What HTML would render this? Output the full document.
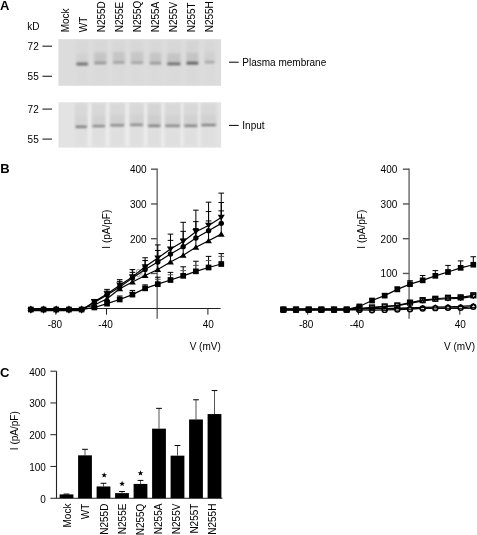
<!DOCTYPE html>
<html><head><meta charset="utf-8"><style>
html,body{margin:0;padding:0;background:#fff;}
body{width:477px;height:535px;overflow:hidden;}
svg{display:block;font-family:"Liberation Sans", sans-serif;will-change:transform;}
</style></head><body>
<svg width="477" height="535" viewBox="0 0 477 535">
<text x="0" y="9.8" font-size="13" text-anchor="start" font-weight="bold" fill="#000">A</text>
<text x="27.2" y="30.2" font-size="10" text-anchor="start" font-weight="normal" fill="#000">kD</text>
<text x="68.8" y="32.3" font-size="10" text-anchor="start" font-weight="normal" fill="#000" transform="rotate(-90 68.8 32.3)">Mock</text>
<text x="86.88" y="32.3" font-size="10" text-anchor="start" font-weight="normal" fill="#000" transform="rotate(-90 86.88 32.3)">WT</text>
<text x="104.96" y="32.3" font-size="10" text-anchor="start" font-weight="normal" fill="#000" transform="rotate(-90 104.96 32.3)">N255D</text>
<text x="123.04" y="32.3" font-size="10" text-anchor="start" font-weight="normal" fill="#000" transform="rotate(-90 123.04 32.3)">N255E</text>
<text x="141.12" y="32.3" font-size="10" text-anchor="start" font-weight="normal" fill="#000" transform="rotate(-90 141.12 32.3)">N255Q</text>
<text x="159.2" y="32.3" font-size="10" text-anchor="start" font-weight="normal" fill="#000" transform="rotate(-90 159.2 32.3)">N255A</text>
<text x="177.28" y="32.3" font-size="10" text-anchor="start" font-weight="normal" fill="#000" transform="rotate(-90 177.28 32.3)">N255V</text>
<text x="195.36" y="32.3" font-size="10" text-anchor="start" font-weight="normal" fill="#000" transform="rotate(-90 195.36 32.3)">N255T</text>
<text x="213.44" y="32.3" font-size="10" text-anchor="start" font-weight="normal" fill="#000" transform="rotate(-90 213.44 32.3)">N255H</text>
<defs><filter id="bl1" x="-30%" y="-30%" width="160%" height="160%"><feGaussianBlur stdDeviation="1.2"/></filter><filter id="bl2" x="-30%" y="-150%" width="160%" height="400%"><feGaussianBlur stdDeviation="1.0"/></filter><filter id="bl3" x="-30%" y="-30%" width="160%" height="160%"><feGaussianBlur stdDeviation="2"/></filter></defs>
<rect x="58.4" y="39.2" width="162.7" height="46.6" fill="#dcdcdc"/>
<rect x="75.8" y="40.2" width="12.8" height="25.8" fill="#d0d0d0" opacity="0.3" filter="url(#bl1)"/>
<rect x="75.8" y="66.0" width="12.8" height="18.8" fill="#d0d0d0" opacity="0.09" filter="url(#bl1)"/>
<rect x="76.39999999999999" y="53.5" width="11.6" height="9.8" fill="#c4c4c4" opacity="0.3" filter="url(#bl1)"/>
<rect x="76.39999999999999" y="62.60" width="11.6" height="2.8" rx="0.9" fill="#727272" filter="url(#bl2)"/>
<rect x="93.7" y="40.2" width="13.2" height="24.7" fill="#d0d0d0" opacity="0.35" filter="url(#bl1)"/>
<rect x="93.7" y="64.9" width="13.2" height="19.9" fill="#d0d0d0" opacity="0.10" filter="url(#bl1)"/>
<rect x="94.3" y="52.4" width="12.0" height="9.8" fill="#c4c4c4" opacity="0.9" filter="url(#bl1)"/>
<rect x="94.3" y="61.50" width="12.0" height="2.8" rx="0.9" fill="#969696" filter="url(#bl2)"/>
<rect x="112.5" y="40.2" width="12.7" height="24.2" fill="#d0d0d0" opacity="0.35" filter="url(#bl1)"/>
<rect x="112.5" y="64.4" width="12.7" height="20.4" fill="#d0d0d0" opacity="0.10" filter="url(#bl1)"/>
<rect x="113.1" y="51.9" width="11.5" height="9.8" fill="#c4c4c4" opacity="0.85" filter="url(#bl1)"/>
<rect x="113.1" y="61.00" width="11.5" height="2.8" rx="0.9" fill="#a2a2a2" filter="url(#bl2)"/>
<rect x="130.5" y="40.2" width="13.2" height="24.4" fill="#d0d0d0" opacity="0.35" filter="url(#bl1)"/>
<rect x="130.5" y="64.6" width="13.2" height="20.2" fill="#d0d0d0" opacity="0.10" filter="url(#bl1)"/>
<rect x="131.1" y="52.1" width="12.0" height="9.8" fill="#c4c4c4" opacity="0.8" filter="url(#bl1)"/>
<rect x="131.1" y="61.20" width="12.0" height="2.8" rx="0.9" fill="#a6a6a6" filter="url(#bl2)"/>
<rect x="149.3" y="40.2" width="12.4" height="25.0" fill="#d0d0d0" opacity="0.35" filter="url(#bl1)"/>
<rect x="149.3" y="65.2" width="12.4" height="19.6" fill="#d0d0d0" opacity="0.10" filter="url(#bl1)"/>
<rect x="149.9" y="52.7" width="11.2" height="9.8" fill="#c4c4c4" opacity="0.85" filter="url(#bl1)"/>
<rect x="149.9" y="61.80" width="11.2" height="2.8" rx="0.9" fill="#989898" filter="url(#bl2)"/>
<rect x="166.7" y="40.2" width="14.3" height="25.7" fill="#d0d0d0" opacity="0.35" filter="url(#bl1)"/>
<rect x="166.7" y="65.9" width="14.3" height="18.9" fill="#d0d0d0" opacity="0.10" filter="url(#bl1)"/>
<rect x="167.29999999999998" y="53.4" width="13.1" height="9.8" fill="#c4c4c4" opacity="0.9" filter="url(#bl1)"/>
<rect x="167.29999999999998" y="62.50" width="13.1" height="2.8" rx="0.9" fill="#6c6c6c" filter="url(#bl2)"/>
<rect x="186.0" y="40.2" width="12.8" height="25.0" fill="#d0d0d0" opacity="0.6" filter="url(#bl1)"/>
<rect x="186.0" y="65.2" width="12.8" height="19.6" fill="#d0d0d0" opacity="0.18" filter="url(#bl1)"/>
<rect x="186.6" y="52.7" width="11.6" height="9.8" fill="#c4c4c4" opacity="0.95" filter="url(#bl1)"/>
<rect x="186.6" y="61.80" width="11.6" height="2.8" rx="0.9" fill="#5c5c5c" filter="url(#bl2)"/>
<rect x="204.2" y="40.2" width="11.0" height="23.9" fill="#d0d0d0" opacity="0.35" filter="url(#bl1)"/>
<rect x="204.2" y="64.1" width="11.0" height="20.7" fill="#d0d0d0" opacity="0.10" filter="url(#bl1)"/>
<rect x="204.79999999999998" y="51.6" width="9.8" height="9.8" fill="#c4c4c4" opacity="0.35" filter="url(#bl1)"/>
<rect x="204.79999999999998" y="60.70" width="9.8" height="2.8" rx="0.9" fill="#a8a8a8" filter="url(#bl2)"/>
<rect x="58.4" y="102.3" width="162.7" height="45.3" fill="#e3e3e3"/>
<rect x="87.2" y="103.3" width="4.9" height="43.3" fill="#ebebeb" filter="url(#bl1)"/>
<rect x="105.3" y="103.3" width="4.7" height="43.3" fill="#ebebeb" filter="url(#bl1)"/>
<rect x="124.5" y="103.3" width="5.3" height="43.3" fill="#ebebeb" filter="url(#bl1)"/>
<rect x="143.4" y="103.3" width="4.4" height="43.3" fill="#ebebeb" filter="url(#bl1)"/>
<rect x="160.7" y="103.3" width="4.2" height="43.3" fill="#ebebeb" filter="url(#bl1)"/>
<rect x="180.3" y="103.3" width="3.7" height="43.3" fill="#ebebeb" filter="url(#bl1)"/>
<rect x="197.6" y="103.3" width="3.3" height="43.3" fill="#ebebeb" filter="url(#bl1)"/>
<rect x="74.8" y="103.3" width="12.7" height="25.4" fill="#d4d4d4" opacity="0.7" filter="url(#bl1)"/>
<rect x="74.8" y="128.7" width="12.7" height="17.9" fill="#d4d4d4" opacity="0.21" filter="url(#bl1)"/>
<rect x="75.39999999999999" y="116.2" width="11.5" height="9.8" fill="#cccccc" opacity="0.3" filter="url(#bl1)"/>
<rect x="75.39999999999999" y="125.75" width="11.5" height="1.9" rx="0.9" fill="#6c6c6c" filter="url(#bl2)"/>
<rect x="91.8" y="103.3" width="13.8" height="24.8" fill="#d4d4d4" opacity="0.7" filter="url(#bl1)"/>
<rect x="91.8" y="128.1" width="13.8" height="18.5" fill="#d4d4d4" opacity="0.21" filter="url(#bl1)"/>
<rect x="92.39999999999999" y="115.6" width="12.6" height="9.8" fill="#cccccc" opacity="0.5" filter="url(#bl1)"/>
<rect x="92.39999999999999" y="125.15" width="12.6" height="1.9" rx="0.9" fill="#747474" filter="url(#bl2)"/>
<rect x="109.7" y="103.3" width="15.1" height="23.9" fill="#d4d4d4" opacity="0.7" filter="url(#bl1)"/>
<rect x="109.7" y="127.2" width="15.1" height="19.4" fill="#d4d4d4" opacity="0.21" filter="url(#bl1)"/>
<rect x="110.3" y="114.7" width="13.9" height="9.8" fill="#cccccc" opacity="0.5" filter="url(#bl1)"/>
<rect x="110.3" y="124.25" width="13.9" height="1.9" rx="0.9" fill="#7c7c7c" filter="url(#bl2)"/>
<rect x="129.5" y="103.3" width="14.2" height="23.5" fill="#d4d4d4" opacity="0.7" filter="url(#bl1)"/>
<rect x="129.5" y="126.8" width="14.2" height="19.8" fill="#d4d4d4" opacity="0.21" filter="url(#bl1)"/>
<rect x="130.1" y="114.3" width="13.0" height="9.8" fill="#cccccc" opacity="0.5" filter="url(#bl1)"/>
<rect x="130.1" y="123.85" width="13.0" height="1.9" rx="0.9" fill="#7e7e7e" filter="url(#bl2)"/>
<rect x="147.5" y="103.3" width="13.5" height="24.4" fill="#d4d4d4" opacity="0.9" filter="url(#bl1)"/>
<rect x="147.5" y="127.7" width="13.5" height="18.9" fill="#d4d4d4" opacity="0.27" filter="url(#bl1)"/>
<rect x="148.1" y="115.2" width="12.3" height="9.8" fill="#cccccc" opacity="0.7" filter="url(#bl1)"/>
<rect x="148.1" y="124.75" width="12.3" height="1.9" rx="0.9" fill="#707070" filter="url(#bl2)"/>
<rect x="164.6" y="103.3" width="16.0" height="24.5" fill="#d4d4d4" opacity="0.7" filter="url(#bl1)"/>
<rect x="164.6" y="127.8" width="16.0" height="18.8" fill="#d4d4d4" opacity="0.21" filter="url(#bl1)"/>
<rect x="165.2" y="115.3" width="14.8" height="9.8" fill="#cccccc" opacity="0.5" filter="url(#bl1)"/>
<rect x="165.2" y="124.85" width="14.8" height="1.9" rx="0.9" fill="#787878" filter="url(#bl2)"/>
<rect x="183.7" y="103.3" width="14.2" height="24.4" fill="#d4d4d4" opacity="0.7" filter="url(#bl1)"/>
<rect x="183.7" y="127.7" width="14.2" height="18.9" fill="#d4d4d4" opacity="0.21" filter="url(#bl1)"/>
<rect x="184.29999999999998" y="115.2" width="13.0" height="9.8" fill="#cccccc" opacity="0.5" filter="url(#bl1)"/>
<rect x="184.29999999999998" y="124.75" width="13.0" height="1.9" rx="0.9" fill="#727272" filter="url(#bl2)"/>
<rect x="200.6" y="103.3" width="16.0" height="23.7" fill="#d4d4d4" opacity="0.7" filter="url(#bl1)"/>
<rect x="200.6" y="127.0" width="16.0" height="19.6" fill="#d4d4d4" opacity="0.21" filter="url(#bl1)"/>
<rect x="201.2" y="114.5" width="14.8" height="9.8" fill="#cccccc" opacity="0.5" filter="url(#bl1)"/>
<rect x="201.2" y="124.05" width="14.8" height="1.9" rx="0.9" fill="#767676" filter="url(#bl2)"/>
<line x1="42.4" y1="46.2" x2="52" y2="46.2" stroke="#333" stroke-width="1.2"/>
<text x="27.6" y="50.0" font-size="10" text-anchor="start" font-weight="normal" fill="#000">72</text>
<line x1="42.4" y1="76.3" x2="52" y2="76.3" stroke="#333" stroke-width="1.2"/>
<text x="27.6" y="80.1" font-size="10" text-anchor="start" font-weight="normal" fill="#000">55</text>
<line x1="42.4" y1="109.1" x2="52" y2="109.1" stroke="#333" stroke-width="1.2"/>
<text x="27.6" y="112.89999999999999" font-size="10" text-anchor="start" font-weight="normal" fill="#000">72</text>
<line x1="42.4" y1="139.1" x2="52" y2="139.1" stroke="#333" stroke-width="1.2"/>
<text x="27.6" y="142.9" font-size="10" text-anchor="start" font-weight="normal" fill="#000">55</text>
<line x1="229" y1="62.2" x2="238.7" y2="62.2" stroke="#000" stroke-width="1"/>
<text x="242.3" y="66.1" font-size="10" text-anchor="start" font-weight="normal" fill="#000">Plasma membrane</text>
<line x1="229" y1="125.4" x2="238.7" y2="125.4" stroke="#000" stroke-width="1"/>
<text x="242.3" y="129.2" font-size="10" text-anchor="start" font-weight="normal" fill="#000">Input</text>
<text x="0.3" y="172.8" font-size="13" text-anchor="start" font-weight="bold" fill="#000">B</text>
<line x1="157.2" y1="168.6" x2="157.2" y2="318.7" stroke="#7a7a7a" stroke-width="1.6"/>
<line x1="30.870000000000005" y1="308.5" x2="220.575" y2="308.5" stroke="#222" stroke-width="1"/>
<line x1="151.0" y1="273.45" x2="157.2" y2="273.45" stroke="#555" stroke-width="1.4"/>
<text x="146.6" y="277.35" font-size="10" text-anchor="end" font-weight="normal" fill="#999">100</text>
<line x1="151.0" y1="238.70" x2="157.2" y2="238.70" stroke="#555" stroke-width="1.4"/>
<text x="146.6" y="242.6" font-size="10" text-anchor="end" font-weight="normal" fill="#000">200</text>
<line x1="151.0" y1="203.95" x2="157.2" y2="203.95" stroke="#555" stroke-width="1.4"/>
<text x="146.6" y="207.85" font-size="10" text-anchor="end" font-weight="normal" fill="#000">300</text>
<line x1="151.0" y1="169.20" x2="157.2" y2="169.20" stroke="#555" stroke-width="1.4"/>
<text x="146.6" y="173.1" font-size="10" text-anchor="end" font-weight="normal" fill="#000">400</text>
<line x1="55.79999999999998" y1="308.5" x2="55.79999999999998" y2="314.7" stroke="#222" stroke-width="1"/>
<text x="54.899999999999984" y="328.3" font-size="10" text-anchor="middle" font-weight="normal" fill="#000">-80</text>
<line x1="106.49999999999999" y1="308.5" x2="106.49999999999999" y2="314.7" stroke="#222" stroke-width="1"/>
<text x="105.59999999999998" y="328.3" font-size="10" text-anchor="middle" font-weight="normal" fill="#000">-40</text>
<line x1="207.89999999999998" y1="308.5" x2="207.89999999999998" y2="314.7" stroke="#222" stroke-width="1"/>
<text x="208.29999999999998" y="328.3" font-size="10" text-anchor="middle" font-weight="normal" fill="#000">40</text>
<text x="205.2" y="349.6" font-size="10" text-anchor="middle" font-weight="normal" fill="#000">V (mV)</text>
<text x="109.89999999999999" y="229.2" font-size="10" text-anchor="middle" font-weight="normal" fill="#000" transform="rotate(-90 109.89999999999999 229.2)">I (pA/pF)</text>
<line x1="94.33500000000001" y1="307.4575" x2="94.33500000000001" y2="305.72" stroke="#000" stroke-width="1"/>
<line x1="91.53500000000001" y1="305.72" x2="97.135" y2="305.72" stroke="#000" stroke-width="1"/>
<line x1="107.028" y1="303.635" x2="107.028" y2="300.855" stroke="#000" stroke-width="1"/>
<line x1="104.22800000000001" y1="300.855" x2="109.828" y2="300.855" stroke="#000" stroke-width="1"/>
<line x1="119.721" y1="299.465" x2="119.721" y2="295.99" stroke="#000" stroke-width="1"/>
<line x1="116.921" y1="295.99" x2="122.521" y2="295.99" stroke="#000" stroke-width="1"/>
<line x1="132.41400000000002" y1="294.6" x2="132.41400000000002" y2="290.43" stroke="#000" stroke-width="1"/>
<line x1="129.614" y1="290.43" x2="135.21400000000003" y2="290.43" stroke="#000" stroke-width="1"/>
<line x1="145.107" y1="288.345" x2="145.107" y2="284.87" stroke="#000" stroke-width="1"/>
<line x1="142.307" y1="284.87" x2="147.907" y2="284.87" stroke="#000" stroke-width="1"/>
<line x1="157.8" y1="284.175" x2="157.8" y2="277.225" stroke="#000" stroke-width="1"/>
<line x1="155.0" y1="277.225" x2="160.60000000000002" y2="277.225" stroke="#000" stroke-width="1"/>
<line x1="170.49300000000002" y1="280.005" x2="170.49300000000002" y2="272.36" stroke="#000" stroke-width="1"/>
<line x1="167.693" y1="272.36" x2="173.29300000000003" y2="272.36" stroke="#000" stroke-width="1"/>
<line x1="183.186" y1="275.835" x2="183.186" y2="266.8" stroke="#000" stroke-width="1"/>
<line x1="180.386" y1="266.8" x2="185.98600000000002" y2="266.8" stroke="#000" stroke-width="1"/>
<line x1="195.87900000000002" y1="271.3175" x2="195.87900000000002" y2="261.24" stroke="#000" stroke-width="1"/>
<line x1="193.079" y1="261.24" x2="198.67900000000003" y2="261.24" stroke="#000" stroke-width="1"/>
<line x1="208.572" y1="267.495" x2="208.572" y2="256.375" stroke="#000" stroke-width="1"/>
<line x1="205.772" y1="256.375" x2="211.372" y2="256.375" stroke="#000" stroke-width="1"/>
<line x1="221.26500000000001" y1="264.02" x2="221.26500000000001" y2="253.595" stroke="#000" stroke-width="1"/>
<line x1="218.465" y1="253.595" x2="224.06500000000003" y2="253.595" stroke="#000" stroke-width="1"/>
<line x1="116.921" y1="297.7275" x2="122.521" y2="297.7275" stroke="#555" stroke-width="1"/>
<line x1="129.614" y1="292.515" x2="135.21400000000003" y2="292.515" stroke="#555" stroke-width="1"/>
<line x1="142.307" y1="286.955" x2="147.907" y2="286.955" stroke="#555" stroke-width="1"/>
<line x1="155.0" y1="279.31" x2="160.60000000000002" y2="279.31" stroke="#555" stroke-width="1"/>
<line x1="167.693" y1="274.7925" x2="173.29300000000003" y2="274.7925" stroke="#555" stroke-width="1"/>
<line x1="180.386" y1="270.6225" x2="185.98600000000002" y2="270.6225" stroke="#555" stroke-width="1"/>
<line x1="193.079" y1="265.41" x2="198.67900000000003" y2="265.41" stroke="#555" stroke-width="1"/>
<line x1="205.772" y1="260.545" x2="211.372" y2="260.545" stroke="#555" stroke-width="1"/>
<line x1="218.465" y1="256.375" x2="224.06500000000003" y2="256.375" stroke="#555" stroke-width="1"/>
<line x1="94.33500000000001" y1="305.025" x2="94.33500000000001" y2="303.635" stroke="#000" stroke-width="1"/>
<line x1="91.53500000000001" y1="303.635" x2="97.135" y2="303.635" stroke="#000" stroke-width="1"/>
<line x1="107.028" y1="298.77" x2="107.028" y2="294.6" stroke="#000" stroke-width="1"/>
<line x1="104.22800000000001" y1="294.6" x2="109.828" y2="294.6" stroke="#000" stroke-width="1"/>
<line x1="119.721" y1="288.6925" x2="119.721" y2="284.175" stroke="#000" stroke-width="1"/>
<line x1="116.921" y1="284.175" x2="122.521" y2="284.175" stroke="#000" stroke-width="1"/>
<line x1="132.41400000000002" y1="282.09000000000003" x2="132.41400000000002" y2="275.4875" stroke="#000" stroke-width="1"/>
<line x1="129.614" y1="275.4875" x2="135.21400000000003" y2="275.4875" stroke="#000" stroke-width="1"/>
<line x1="145.107" y1="275.4875" x2="145.107" y2="266.8" stroke="#000" stroke-width="1"/>
<line x1="142.307" y1="266.8" x2="147.907" y2="266.8" stroke="#000" stroke-width="1"/>
<line x1="157.8" y1="269.58" x2="157.8" y2="259.85" stroke="#000" stroke-width="1"/>
<line x1="155.0" y1="259.85" x2="160.60000000000002" y2="259.85" stroke="#000" stroke-width="1"/>
<line x1="170.49300000000002" y1="261.935" x2="170.49300000000002" y2="247.6875" stroke="#000" stroke-width="1"/>
<line x1="167.693" y1="247.6875" x2="173.29300000000003" y2="247.6875" stroke="#000" stroke-width="1"/>
<line x1="183.186" y1="255.3325" x2="183.186" y2="239.0" stroke="#000" stroke-width="1"/>
<line x1="180.386" y1="239.0" x2="185.98600000000002" y2="239.0" stroke="#000" stroke-width="1"/>
<line x1="195.87900000000002" y1="247.34" x2="195.87900000000002" y2="228.575" stroke="#000" stroke-width="1"/>
<line x1="193.079" y1="228.575" x2="198.67900000000003" y2="228.575" stroke="#000" stroke-width="1"/>
<line x1="208.572" y1="240.7375" x2="208.572" y2="220.93" stroke="#000" stroke-width="1"/>
<line x1="205.772" y1="220.93" x2="211.372" y2="220.93" stroke="#000" stroke-width="1"/>
<line x1="221.26500000000001" y1="234.135" x2="221.26500000000001" y2="210.85250000000002" stroke="#000" stroke-width="1"/>
<line x1="218.465" y1="210.85250000000002" x2="224.06500000000003" y2="210.85250000000002" stroke="#000" stroke-width="1"/>
<line x1="94.33500000000001" y1="302.5925" x2="94.33500000000001" y2="300.855" stroke="#000" stroke-width="1"/>
<line x1="91.53500000000001" y1="300.855" x2="97.135" y2="300.855" stroke="#000" stroke-width="1"/>
<line x1="107.028" y1="294.9475" x2="107.028" y2="291.125" stroke="#000" stroke-width="1"/>
<line x1="104.22800000000001" y1="291.125" x2="109.828" y2="291.125" stroke="#000" stroke-width="1"/>
<line x1="119.721" y1="286.955" x2="119.721" y2="281.395" stroke="#000" stroke-width="1"/>
<line x1="116.921" y1="281.395" x2="122.521" y2="281.395" stroke="#000" stroke-width="1"/>
<line x1="132.41400000000002" y1="277.92" x2="132.41400000000002" y2="272.36" stroke="#000" stroke-width="1"/>
<line x1="129.614" y1="272.36" x2="135.21400000000003" y2="272.36" stroke="#000" stroke-width="1"/>
<line x1="145.107" y1="269.58" x2="145.107" y2="260.545" stroke="#000" stroke-width="1"/>
<line x1="142.307" y1="260.545" x2="147.907" y2="260.545" stroke="#000" stroke-width="1"/>
<line x1="157.8" y1="261.935" x2="157.8" y2="250.4675" stroke="#000" stroke-width="1"/>
<line x1="155.0" y1="250.4675" x2="160.60000000000002" y2="250.4675" stroke="#000" stroke-width="1"/>
<line x1="170.49300000000002" y1="253.9425" x2="170.49300000000002" y2="240.39" stroke="#000" stroke-width="1"/>
<line x1="167.693" y1="240.39" x2="173.29300000000003" y2="240.39" stroke="#000" stroke-width="1"/>
<line x1="183.186" y1="246.645" x2="183.186" y2="231.35500000000002" stroke="#000" stroke-width="1"/>
<line x1="180.386" y1="231.35500000000002" x2="185.98600000000002" y2="231.35500000000002" stroke="#000" stroke-width="1"/>
<line x1="195.87900000000002" y1="237.9575" x2="195.87900000000002" y2="221.625" stroke="#000" stroke-width="1"/>
<line x1="193.079" y1="221.625" x2="198.67900000000003" y2="221.625" stroke="#000" stroke-width="1"/>
<line x1="208.572" y1="230.66000000000003" x2="208.572" y2="211.5475" stroke="#000" stroke-width="1"/>
<line x1="205.772" y1="211.5475" x2="211.372" y2="211.5475" stroke="#000" stroke-width="1"/>
<line x1="221.26500000000001" y1="223.3625" x2="221.26500000000001" y2="202.5125" stroke="#000" stroke-width="1"/>
<line x1="218.465" y1="202.5125" x2="224.06500000000003" y2="202.5125" stroke="#000" stroke-width="1"/>
<line x1="94.33500000000001" y1="301.55" x2="94.33500000000001" y2="299.465" stroke="#000" stroke-width="1"/>
<line x1="91.53500000000001" y1="299.465" x2="97.135" y2="299.465" stroke="#000" stroke-width="1"/>
<line x1="107.028" y1="293.905" x2="107.028" y2="289.3875" stroke="#000" stroke-width="1"/>
<line x1="104.22800000000001" y1="289.3875" x2="109.828" y2="289.3875" stroke="#000" stroke-width="1"/>
<line x1="119.721" y1="285.2175" x2="119.721" y2="279.6575" stroke="#000" stroke-width="1"/>
<line x1="116.921" y1="279.6575" x2="122.521" y2="279.6575" stroke="#000" stroke-width="1"/>
<line x1="132.41400000000002" y1="276.8775" x2="132.41400000000002" y2="269.58" stroke="#000" stroke-width="1"/>
<line x1="129.614" y1="269.58" x2="135.21400000000003" y2="269.58" stroke="#000" stroke-width="1"/>
<line x1="145.107" y1="266.8" x2="145.107" y2="257.765" stroke="#000" stroke-width="1"/>
<line x1="142.307" y1="257.765" x2="147.907" y2="257.765" stroke="#000" stroke-width="1"/>
<line x1="157.8" y1="258.1125" x2="157.8" y2="244.9075" stroke="#000" stroke-width="1"/>
<line x1="155.0" y1="244.9075" x2="160.60000000000002" y2="244.9075" stroke="#000" stroke-width="1"/>
<line x1="170.49300000000002" y1="249.07750000000001" x2="170.49300000000002" y2="234.135" stroke="#000" stroke-width="1"/>
<line x1="167.693" y1="234.135" x2="173.29300000000003" y2="234.135" stroke="#000" stroke-width="1"/>
<line x1="183.186" y1="241.4325" x2="183.186" y2="222.32" stroke="#000" stroke-width="1"/>
<line x1="180.386" y1="222.32" x2="185.98600000000002" y2="222.32" stroke="#000" stroke-width="1"/>
<line x1="195.87900000000002" y1="231.7025" x2="195.87900000000002" y2="210.15750000000003" stroke="#000" stroke-width="1"/>
<line x1="193.079" y1="210.15750000000003" x2="198.67900000000003" y2="210.15750000000003" stroke="#000" stroke-width="1"/>
<line x1="208.572" y1="225.4475" x2="208.572" y2="202.16500000000002" stroke="#000" stroke-width="1"/>
<line x1="205.772" y1="202.16500000000002" x2="211.372" y2="202.16500000000002" stroke="#000" stroke-width="1"/>
<line x1="221.26500000000001" y1="217.455" x2="221.26500000000001" y2="193.13" stroke="#000" stroke-width="1"/>
<line x1="218.465" y1="193.13" x2="224.06500000000003" y2="193.13" stroke="#000" stroke-width="1"/>
<polyline points="30.87,309.54 43.56,309.54 56.26,309.54 68.95,309.54 81.64,309.54 94.34,307.46 107.03,303.63 119.72,299.46 132.41,294.60 145.11,288.35 157.80,284.18 170.49,280.00 183.19,275.83 195.88,271.32 208.57,267.50 221.27,264.02" fill="none" stroke="#000" stroke-width="1.2"/>
<polyline points="30.87,308.50 43.56,308.50 56.26,308.50 68.95,308.50 81.64,308.50 94.34,305.02 107.03,298.77 119.72,288.69 132.41,282.09 145.11,275.49 157.80,269.58 170.49,261.94 183.19,255.33 195.88,247.34 208.57,240.74 221.27,234.13" fill="none" stroke="#000" stroke-width="1.2"/>
<polyline points="30.87,309.19 43.56,309.19 56.26,309.19 68.95,309.19 81.64,309.19 94.34,302.59 107.03,294.95 119.72,286.95 132.41,277.92 145.11,269.58 157.80,261.94 170.49,253.94 183.19,246.65 195.88,237.96 208.57,230.66 221.27,223.36" fill="none" stroke="#000" stroke-width="1.2"/>
<polyline points="30.87,310.58 43.56,310.58 56.26,310.58 68.95,310.58 81.64,310.58 94.34,301.55 107.03,293.90 119.72,285.22 132.41,276.88 145.11,266.80 157.80,258.11 170.49,249.08 183.19,241.43 195.88,231.70 208.57,225.45 221.27,217.46" fill="none" stroke="#000" stroke-width="1.2"/>
<rect x="28.02" y="306.69" width="5.7" height="5.7" fill="#000"/>
<rect x="40.71" y="306.69" width="5.7" height="5.7" fill="#000"/>
<rect x="53.41" y="306.69" width="5.7" height="5.7" fill="#000"/>
<rect x="66.10" y="306.69" width="5.7" height="5.7" fill="#000"/>
<rect x="78.79" y="306.69" width="5.7" height="5.7" fill="#000"/>
<rect x="91.49" y="304.61" width="5.7" height="5.7" fill="#000"/>
<rect x="104.18" y="300.78" width="5.7" height="5.7" fill="#000"/>
<rect x="116.87" y="296.61" width="5.7" height="5.7" fill="#000"/>
<rect x="129.56" y="291.75" width="5.7" height="5.7" fill="#000"/>
<rect x="142.26" y="285.50" width="5.7" height="5.7" fill="#000"/>
<rect x="154.95" y="281.32" width="5.7" height="5.7" fill="#000"/>
<rect x="167.64" y="277.15" width="5.7" height="5.7" fill="#000"/>
<rect x="180.34" y="272.98" width="5.7" height="5.7" fill="#000"/>
<rect x="193.03" y="268.47" width="5.7" height="5.7" fill="#000"/>
<rect x="205.72" y="264.64" width="5.7" height="5.7" fill="#000"/>
<rect x="218.42" y="261.17" width="5.7" height="5.7" fill="#000"/>
<path d="M30.87 305.40L34.27 311.00L27.47 311.00Z" fill="#000"/>
<path d="M43.56 305.40L46.96 311.00L40.16 311.00Z" fill="#000"/>
<path d="M56.26 305.40L59.66 311.00L52.86 311.00Z" fill="#000"/>
<path d="M68.95 305.40L72.35 311.00L65.55 311.00Z" fill="#000"/>
<path d="M81.64 305.40L85.04 311.00L78.24 311.00Z" fill="#000"/>
<path d="M94.34 301.92L97.74 307.52L90.94 307.52Z" fill="#000"/>
<path d="M107.03 295.67L110.43 301.27L103.63 301.27Z" fill="#000"/>
<path d="M119.72 285.59L123.12 291.19L116.32 291.19Z" fill="#000"/>
<path d="M132.41 278.99L135.81 284.59L129.01 284.59Z" fill="#000"/>
<path d="M145.11 272.39L148.51 277.99L141.71 277.99Z" fill="#000"/>
<path d="M157.80 266.48L161.20 272.08L154.40 272.08Z" fill="#000"/>
<path d="M170.49 258.83L173.89 264.44L167.09 264.44Z" fill="#000"/>
<path d="M183.19 252.23L186.59 257.83L179.79 257.83Z" fill="#000"/>
<path d="M195.88 244.24L199.28 249.84L192.48 249.84Z" fill="#000"/>
<path d="M208.57 237.64L211.97 243.24L205.17 243.24Z" fill="#000"/>
<path d="M221.27 231.03L224.67 236.63L217.87 236.63Z" fill="#000"/>
<circle cx="30.87" cy="309.19" r="2.7" fill="#000"/>
<circle cx="43.56" cy="309.19" r="2.7" fill="#000"/>
<circle cx="56.26" cy="309.19" r="2.7" fill="#000"/>
<circle cx="68.95" cy="309.19" r="2.7" fill="#000"/>
<circle cx="81.64" cy="309.19" r="2.7" fill="#000"/>
<circle cx="94.34" cy="302.59" r="2.7" fill="#000"/>
<circle cx="107.03" cy="294.95" r="2.7" fill="#000"/>
<circle cx="119.72" cy="286.95" r="2.7" fill="#000"/>
<circle cx="132.41" cy="277.92" r="2.7" fill="#000"/>
<circle cx="145.11" cy="269.58" r="2.7" fill="#000"/>
<circle cx="157.80" cy="261.94" r="2.7" fill="#000"/>
<circle cx="170.49" cy="253.94" r="2.7" fill="#000"/>
<circle cx="183.19" cy="246.65" r="2.7" fill="#000"/>
<circle cx="195.88" cy="237.96" r="2.7" fill="#000"/>
<circle cx="208.57" cy="230.66" r="2.7" fill="#000"/>
<circle cx="221.27" cy="223.36" r="2.7" fill="#000"/>
<path d="M30.87 313.69L34.37 307.98L27.37 307.98Z" fill="#000"/>
<path d="M43.56 313.69L47.06 307.98L40.06 307.98Z" fill="#000"/>
<path d="M56.26 313.69L59.76 307.98L52.76 307.98Z" fill="#000"/>
<path d="M68.95 313.69L72.45 307.98L65.45 307.98Z" fill="#000"/>
<path d="M81.64 313.69L85.14 307.98L78.14 307.98Z" fill="#000"/>
<path d="M94.34 304.65L97.84 298.95L90.84 298.95Z" fill="#000"/>
<path d="M107.03 297.00L110.53 291.30L103.53 291.30Z" fill="#000"/>
<path d="M119.72 288.32L123.22 282.62L116.22 282.62Z" fill="#000"/>
<path d="M132.41 279.98L135.91 274.28L128.91 274.28Z" fill="#000"/>
<path d="M145.11 269.90L148.61 264.20L141.61 264.20Z" fill="#000"/>
<path d="M157.80 261.21L161.30 255.51L154.30 255.51Z" fill="#000"/>
<path d="M170.49 252.18L173.99 246.48L166.99 246.48Z" fill="#000"/>
<path d="M183.19 244.53L186.69 238.83L179.69 238.83Z" fill="#000"/>
<path d="M195.88 234.80L199.38 229.10L192.38 229.10Z" fill="#000"/>
<path d="M208.57 228.55L212.07 222.85L205.07 222.85Z" fill="#000"/>
<path d="M221.27 220.56L224.77 214.86L217.77 214.86Z" fill="#000"/>
<line x1="409.1" y1="168.6" x2="409.1" y2="318.7" stroke="#7a7a7a" stroke-width="1.6"/>
<line x1="283.37" y1="308.5" x2="472.475" y2="308.5" stroke="#222" stroke-width="1"/>
<line x1="402.90000000000003" y1="273.45" x2="409.1" y2="273.45" stroke="#555" stroke-width="1.4"/>
<text x="397.3" y="277.35" font-size="10" text-anchor="end" font-weight="normal" fill="#000">100</text>
<line x1="402.90000000000003" y1="238.70" x2="409.1" y2="238.70" stroke="#555" stroke-width="1.4"/>
<text x="397.3" y="242.6" font-size="10" text-anchor="end" font-weight="normal" fill="#000">200</text>
<line x1="402.90000000000003" y1="203.95" x2="409.1" y2="203.95" stroke="#555" stroke-width="1.4"/>
<text x="397.3" y="207.85" font-size="10" text-anchor="end" font-weight="normal" fill="#000">300</text>
<line x1="402.90000000000003" y1="169.20" x2="409.1" y2="169.20" stroke="#555" stroke-width="1.4"/>
<text x="397.3" y="173.1" font-size="10" text-anchor="end" font-weight="normal" fill="#000">400</text>
<line x1="307.70000000000005" y1="308.5" x2="307.70000000000005" y2="314.7" stroke="#222" stroke-width="1"/>
<text x="306.20000000000005" y="328.3" font-size="10" text-anchor="middle" font-weight="normal" fill="#000">-80</text>
<line x1="358.40000000000003" y1="308.5" x2="358.40000000000003" y2="314.7" stroke="#222" stroke-width="1"/>
<text x="356.90000000000003" y="328.3" font-size="10" text-anchor="middle" font-weight="normal" fill="#000">-40</text>
<line x1="459.8" y1="308.5" x2="459.8" y2="314.7" stroke="#222" stroke-width="1"/>
<text x="460.2" y="328.3" font-size="10" text-anchor="middle" font-weight="normal" fill="#000">40</text>
<text x="459.5" y="349.6" font-size="10" text-anchor="middle" font-weight="normal" fill="#000">V (mV)</text>
<text x="364.8" y="229.2" font-size="10" text-anchor="middle" font-weight="normal" fill="#000" transform="rotate(-90 364.8 229.2)">I (pA/pF)</text>
<line x1="410.0" y1="302.5925" x2="410.0" y2="300.855" stroke="#000" stroke-width="1"/>
<line x1="407.2" y1="300.855" x2="412.8" y2="300.855" stroke="#000" stroke-width="1"/>
<line x1="422.663" y1="300.16" x2="422.663" y2="298.075" stroke="#000" stroke-width="1"/>
<line x1="419.863" y1="298.075" x2="425.463" y2="298.075" stroke="#000" stroke-width="1"/>
<line x1="435.326" y1="298.77" x2="435.326" y2="297.0325" stroke="#000" stroke-width="1"/>
<line x1="432.526" y1="297.0325" x2="438.12600000000003" y2="297.0325" stroke="#000" stroke-width="1"/>
<line x1="447.989" y1="297.7275" x2="447.989" y2="295.99" stroke="#000" stroke-width="1"/>
<line x1="445.18899999999996" y1="295.99" x2="450.789" y2="295.99" stroke="#000" stroke-width="1"/>
<line x1="460.652" y1="297.38" x2="460.652" y2="295.295" stroke="#000" stroke-width="1"/>
<line x1="457.852" y1="295.295" x2="463.452" y2="295.295" stroke="#000" stroke-width="1"/>
<line x1="473.315" y1="295.295" x2="473.315" y2="293.21" stroke="#000" stroke-width="1"/>
<line x1="470.515" y1="293.21" x2="476.115" y2="293.21" stroke="#000" stroke-width="1"/>
<line x1="359.348" y1="306.415" x2="359.348" y2="305.025" stroke="#000" stroke-width="1"/>
<line x1="356.548" y1="305.025" x2="362.148" y2="305.025" stroke="#000" stroke-width="1"/>
<line x1="372.011" y1="300.5075" x2="372.011" y2="298.77" stroke="#000" stroke-width="1"/>
<line x1="369.211" y1="298.77" x2="374.81100000000004" y2="298.77" stroke="#000" stroke-width="1"/>
<line x1="384.674" y1="295.6425" x2="384.674" y2="293.5575" stroke="#000" stroke-width="1"/>
<line x1="381.87399999999997" y1="293.5575" x2="387.474" y2="293.5575" stroke="#000" stroke-width="1"/>
<line x1="397.337" y1="289.3875" x2="397.337" y2="286.955" stroke="#000" stroke-width="1"/>
<line x1="394.537" y1="286.955" x2="400.137" y2="286.955" stroke="#000" stroke-width="1"/>
<line x1="410.0" y1="284.175" x2="410.0" y2="280.7" stroke="#000" stroke-width="1"/>
<line x1="407.2" y1="280.7" x2="412.8" y2="280.7" stroke="#000" stroke-width="1"/>
<line x1="422.663" y1="280.3525" x2="422.663" y2="275.4875" stroke="#000" stroke-width="1"/>
<line x1="419.863" y1="275.4875" x2="425.463" y2="275.4875" stroke="#000" stroke-width="1"/>
<line x1="435.326" y1="275.835" x2="435.326" y2="270.6225" stroke="#000" stroke-width="1"/>
<line x1="432.526" y1="270.6225" x2="438.12600000000003" y2="270.6225" stroke="#000" stroke-width="1"/>
<line x1="447.989" y1="272.0125" x2="447.989" y2="265.41" stroke="#000" stroke-width="1"/>
<line x1="445.18899999999996" y1="265.41" x2="450.789" y2="265.41" stroke="#000" stroke-width="1"/>
<line x1="460.652" y1="267.8425" x2="460.652" y2="260.8925" stroke="#000" stroke-width="1"/>
<line x1="457.852" y1="260.8925" x2="463.452" y2="260.8925" stroke="#000" stroke-width="1"/>
<line x1="473.315" y1="264.71500000000003" x2="473.315" y2="256.7225" stroke="#000" stroke-width="1"/>
<line x1="470.515" y1="256.7225" x2="476.115" y2="256.7225" stroke="#000" stroke-width="1"/>
<polyline points="283.37,309.89 296.03,309.89 308.70,309.89 321.36,309.89 334.02,309.89 346.69,309.89 359.35,309.89 372.01,310.24 384.67,309.89 397.34,309.54 410.00,309.19 422.66,308.50 435.33,308.15 447.99,307.81 460.65,307.81 473.31,306.76" fill="none" stroke="#000" stroke-width="1.2"/>
<circle cx="283.37" cy="309.89" r="2.5" fill="#fff" stroke="#000" stroke-width="1.4"/>
<circle cx="296.03" cy="309.89" r="2.5" fill="#fff" stroke="#000" stroke-width="1.4"/>
<circle cx="308.70" cy="309.89" r="2.5" fill="#fff" stroke="#000" stroke-width="1.4"/>
<circle cx="321.36" cy="309.89" r="2.5" fill="#fff" stroke="#000" stroke-width="1.4"/>
<circle cx="334.02" cy="309.89" r="2.5" fill="#fff" stroke="#000" stroke-width="1.4"/>
<circle cx="346.69" cy="309.89" r="2.5" fill="#fff" stroke="#000" stroke-width="1.4"/>
<circle cx="359.35" cy="309.89" r="2.5" fill="#fff" stroke="#000" stroke-width="1.4"/>
<circle cx="372.01" cy="310.24" r="2.5" fill="#fff" stroke="#000" stroke-width="1.4"/>
<circle cx="384.67" cy="309.89" r="2.5" fill="#fff" stroke="#000" stroke-width="1.4"/>
<circle cx="397.34" cy="309.54" r="2.5" fill="#fff" stroke="#000" stroke-width="1.4"/>
<circle cx="410.00" cy="309.19" r="2.5" fill="#fff" stroke="#000" stroke-width="1.4"/>
<circle cx="422.66" cy="308.50" r="2.5" fill="#fff" stroke="#000" stroke-width="1.4"/>
<circle cx="435.33" cy="308.15" r="2.5" fill="#fff" stroke="#000" stroke-width="1.4"/>
<circle cx="447.99" cy="307.81" r="2.5" fill="#fff" stroke="#000" stroke-width="1.4"/>
<circle cx="460.65" cy="307.81" r="2.5" fill="#fff" stroke="#000" stroke-width="1.4"/>
<circle cx="473.31" cy="306.76" r="2.5" fill="#fff" stroke="#000" stroke-width="1.4"/>
<polyline points="283.37,309.54 296.03,309.54 308.70,309.54 321.36,309.54 334.02,309.54 346.69,309.54 359.35,308.85 372.01,308.85 384.67,308.50 397.34,308.15 410.00,307.81 422.66,307.46 435.33,307.11 447.99,306.76 460.65,306.42 473.31,305.72" fill="none" stroke="#000" stroke-width="1.2"/>
<path d="M283.37 307.14L285.87 311.44L280.87 311.44Z" fill="none" stroke="#000" stroke-width="1"/>
<path d="M296.03 307.14L298.53 311.44L293.53 311.44Z" fill="none" stroke="#000" stroke-width="1"/>
<path d="M308.70 307.14L311.20 311.44L306.20 311.44Z" fill="none" stroke="#000" stroke-width="1"/>
<path d="M321.36 307.14L323.86 311.44L318.86 311.44Z" fill="none" stroke="#000" stroke-width="1"/>
<path d="M334.02 307.14L336.52 311.44L331.52 311.44Z" fill="none" stroke="#000" stroke-width="1"/>
<path d="M346.69 307.14L349.19 311.44L344.19 311.44Z" fill="none" stroke="#000" stroke-width="1"/>
<path d="M359.35 306.45L361.85 310.75L356.85 310.75Z" fill="none" stroke="#000" stroke-width="1"/>
<path d="M372.01 306.45L374.51 310.75L369.51 310.75Z" fill="none" stroke="#000" stroke-width="1"/>
<path d="M384.67 306.10L387.17 310.40L382.17 310.40Z" fill="none" stroke="#000" stroke-width="1"/>
<path d="M397.34 305.75L399.84 310.05L394.84 310.05Z" fill="none" stroke="#000" stroke-width="1"/>
<path d="M410.00 305.41L412.50 309.70L407.50 309.70Z" fill="none" stroke="#000" stroke-width="1"/>
<path d="M422.66 305.06L425.16 309.36L420.16 309.36Z" fill="none" stroke="#000" stroke-width="1"/>
<path d="M435.33 304.71L437.83 309.01L432.83 309.01Z" fill="none" stroke="#000" stroke-width="1"/>
<path d="M447.99 304.36L450.49 308.66L445.49 308.66Z" fill="none" stroke="#000" stroke-width="1"/>
<path d="M460.65 304.02L463.15 308.31L458.15 308.31Z" fill="none" stroke="#000" stroke-width="1"/>
<path d="M473.31 303.32L475.81 307.62L470.81 307.62Z" fill="none" stroke="#000" stroke-width="1"/>
<polyline points="283.37,309.54 296.03,309.54 308.70,309.54 321.36,309.54 334.02,309.54 346.69,309.54 359.35,308.50 372.01,307.81 384.67,306.76 397.34,305.72 410.00,303.29 422.66,300.86 435.33,299.46 447.99,298.77 460.65,298.42 473.31,296.34" fill="none" stroke="#000" stroke-width="1.2"/>
<path d="M283.37 311.94L285.87 307.64L280.87 307.64Z" fill="none" stroke="#000" stroke-width="1"/>
<path d="M296.03 311.94L298.53 307.64L293.53 307.64Z" fill="none" stroke="#000" stroke-width="1"/>
<path d="M308.70 311.94L311.20 307.64L306.20 307.64Z" fill="none" stroke="#000" stroke-width="1"/>
<path d="M321.36 311.94L323.86 307.64L318.86 307.64Z" fill="none" stroke="#000" stroke-width="1"/>
<path d="M334.02 311.94L336.52 307.64L331.52 307.64Z" fill="none" stroke="#000" stroke-width="1"/>
<path d="M346.69 311.94L349.19 307.64L344.19 307.64Z" fill="none" stroke="#000" stroke-width="1"/>
<path d="M359.35 310.90L361.85 306.60L356.85 306.60Z" fill="none" stroke="#000" stroke-width="1"/>
<path d="M372.01 310.20L374.51 305.91L369.51 305.91Z" fill="none" stroke="#000" stroke-width="1"/>
<path d="M384.67 309.16L387.17 304.86L382.17 304.86Z" fill="none" stroke="#000" stroke-width="1"/>
<path d="M397.34 308.12L399.84 303.82L394.84 303.82Z" fill="none" stroke="#000" stroke-width="1"/>
<path d="M410.00 305.69L412.50 301.39L407.50 301.39Z" fill="none" stroke="#000" stroke-width="1"/>
<path d="M422.66 303.25L425.16 298.96L420.16 298.96Z" fill="none" stroke="#000" stroke-width="1"/>
<path d="M435.33 301.86L437.83 297.56L432.83 297.56Z" fill="none" stroke="#000" stroke-width="1"/>
<path d="M447.99 301.17L450.49 296.87L445.49 296.87Z" fill="none" stroke="#000" stroke-width="1"/>
<path d="M460.65 300.82L463.15 296.52L458.15 296.52Z" fill="none" stroke="#000" stroke-width="1"/>
<path d="M473.31 298.74L475.81 294.44L470.81 294.44Z" fill="none" stroke="#000" stroke-width="1"/>
<polyline points="283.37,309.54 296.03,309.54 308.70,309.54 321.36,309.54 334.02,309.54 346.69,309.54 359.35,308.50 372.01,307.46 384.67,306.42 397.34,305.37 410.00,302.59 422.66,300.16 435.33,298.77 447.99,297.73 460.65,297.38 473.31,295.30" fill="none" stroke="#000" stroke-width="1.2"/>
<rect x="280.97" y="307.14" width="4.80" height="4.80" fill="none" stroke="#000" stroke-width="1.4"/>
<rect x="293.63" y="307.14" width="4.80" height="4.80" fill="none" stroke="#000" stroke-width="1.4"/>
<rect x="306.30" y="307.14" width="4.80" height="4.80" fill="none" stroke="#000" stroke-width="1.4"/>
<rect x="318.96" y="307.14" width="4.80" height="4.80" fill="none" stroke="#000" stroke-width="1.4"/>
<rect x="331.62" y="307.14" width="4.80" height="4.80" fill="none" stroke="#000" stroke-width="1.4"/>
<rect x="344.28" y="307.14" width="4.80" height="4.80" fill="none" stroke="#000" stroke-width="1.4"/>
<rect x="356.95" y="306.10" width="4.80" height="4.80" fill="none" stroke="#000" stroke-width="1.4"/>
<rect x="369.61" y="305.06" width="4.80" height="4.80" fill="none" stroke="#000" stroke-width="1.4"/>
<rect x="382.27" y="304.01" width="4.80" height="4.80" fill="none" stroke="#000" stroke-width="1.4"/>
<rect x="394.94" y="302.97" width="4.80" height="4.80" fill="none" stroke="#000" stroke-width="1.4"/>
<rect x="407.60" y="300.19" width="4.80" height="4.80" fill="none" stroke="#000" stroke-width="1.4"/>
<rect x="420.26" y="297.76" width="4.80" height="4.80" fill="none" stroke="#000" stroke-width="1.4"/>
<rect x="432.93" y="296.37" width="4.80" height="4.80" fill="none" stroke="#000" stroke-width="1.4"/>
<rect x="445.59" y="295.33" width="4.80" height="4.80" fill="none" stroke="#000" stroke-width="1.4"/>
<rect x="458.25" y="294.98" width="4.80" height="4.80" fill="none" stroke="#000" stroke-width="1.4"/>
<rect x="470.91" y="292.89" width="4.80" height="4.80" fill="none" stroke="#000" stroke-width="1.4"/>
<polyline points="283.37,309.54 296.03,309.54 308.70,309.54 321.36,309.54 334.02,309.54 346.69,309.54 359.35,306.42 372.01,300.51 384.67,295.64 397.34,289.39 410.00,284.18 422.66,280.35 435.33,275.83 447.99,272.01 460.65,267.84 473.31,264.72" fill="none" stroke="#000" stroke-width="1.2"/>
<rect x="280.52" y="306.69" width="5.7" height="5.7" fill="#000"/>
<rect x="293.18" y="306.69" width="5.7" height="5.7" fill="#000"/>
<rect x="305.85" y="306.69" width="5.7" height="5.7" fill="#000"/>
<rect x="318.51" y="306.69" width="5.7" height="5.7" fill="#000"/>
<rect x="331.17" y="306.69" width="5.7" height="5.7" fill="#000"/>
<rect x="343.83" y="306.69" width="5.7" height="5.7" fill="#000"/>
<rect x="356.50" y="303.56" width="5.7" height="5.7" fill="#000"/>
<rect x="369.16" y="297.66" width="5.7" height="5.7" fill="#000"/>
<rect x="381.82" y="292.79" width="5.7" height="5.7" fill="#000"/>
<rect x="394.49" y="286.54" width="5.7" height="5.7" fill="#000"/>
<rect x="407.15" y="281.32" width="5.7" height="5.7" fill="#000"/>
<rect x="419.81" y="277.50" width="5.7" height="5.7" fill="#000"/>
<rect x="432.48" y="272.98" width="5.7" height="5.7" fill="#000"/>
<rect x="445.14" y="269.16" width="5.7" height="5.7" fill="#000"/>
<rect x="457.80" y="264.99" width="5.7" height="5.7" fill="#000"/>
<rect x="470.46" y="261.87" width="5.7" height="5.7" fill="#000"/>
<text x="0" y="377.2" font-size="13" text-anchor="start" font-weight="bold" fill="#000">C</text>
<line x1="56.5" y1="371.2" x2="56.5" y2="498.2" stroke="#222" stroke-width="1.1"/>
<line x1="50.4" y1="498.2" x2="222.4" y2="498.2" stroke="#222" stroke-width="1.1"/>
<line x1="50.4" y1="466.45" x2="56.5" y2="466.45" stroke="#222" stroke-width="1"/>
<line x1="50.4" y1="434.7" x2="56.5" y2="434.7" stroke="#222" stroke-width="1"/>
<line x1="50.4" y1="402.95" x2="56.5" y2="402.95" stroke="#222" stroke-width="1"/>
<line x1="50.4" y1="371.2" x2="56.5" y2="371.2" stroke="#222" stroke-width="1"/>
<text x="45.9" y="502.59999999999997" font-size="10" text-anchor="end" font-weight="normal" fill="#000">0</text>
<text x="45.9" y="470.84999999999997" font-size="10" text-anchor="end" font-weight="normal" fill="#000">100</text>
<text x="45.9" y="439.09999999999997" font-size="10" text-anchor="end" font-weight="normal" fill="#000">200</text>
<text x="45.9" y="407.34999999999997" font-size="10" text-anchor="end" font-weight="normal" fill="#000">300</text>
<text x="45.9" y="375.59999999999997" font-size="10" text-anchor="end" font-weight="normal" fill="#000">400</text>
<text x="18.4" y="430.7" font-size="10" text-anchor="middle" font-weight="normal" fill="#000" transform="rotate(-90 18.4 430.7)">I (pA/pF)</text>
<line x1="66.5" y1="494.39" x2="66.5" y2="494.0725" stroke="#555" stroke-width="1"/>
<line x1="63.6" y1="494.0725" x2="69.4" y2="494.0725" stroke="#000" stroke-width="1"/>
<rect x="59.6" y="494.39" width="13.8" height="3.8100000000000023" fill="#000"/>
<line x1="85.0" y1="455.3375" x2="85.0" y2="449.305" stroke="#555" stroke-width="1"/>
<line x1="82.1" y1="449.305" x2="87.9" y2="449.305" stroke="#000" stroke-width="1"/>
<rect x="78.1" y="455.3375" width="13.8" height="42.86250000000001" fill="#000"/>
<line x1="103.5" y1="486.4525" x2="103.5" y2="483.2775" stroke="#555" stroke-width="1"/>
<line x1="100.6" y1="483.2775" x2="106.4" y2="483.2775" stroke="#000" stroke-width="1"/>
<rect x="96.6" y="486.4525" width="13.8" height="11.747500000000002" fill="#000"/>
<line x1="122.0" y1="493.12" x2="122.0" y2="491.53249999999997" stroke="#555" stroke-width="1"/>
<line x1="119.1" y1="491.53249999999997" x2="124.9" y2="491.53249999999997" stroke="#000" stroke-width="1"/>
<rect x="115.1" y="493.12" width="13.8" height="5.079999999999984" fill="#000"/>
<line x1="140.5" y1="483.91249999999997" x2="140.5" y2="480.41999999999996" stroke="#555" stroke-width="1"/>
<line x1="137.6" y1="480.41999999999996" x2="143.4" y2="480.41999999999996" stroke="#000" stroke-width="1"/>
<rect x="133.6" y="483.91249999999997" width="13.8" height="14.287500000000023" fill="#000"/>
<line x1="159.0" y1="428.6675" x2="159.0" y2="408.34749999999997" stroke="#555" stroke-width="1"/>
<line x1="156.1" y1="408.34749999999997" x2="161.9" y2="408.34749999999997" stroke="#000" stroke-width="1"/>
<rect x="152.1" y="428.6675" width="13.8" height="69.53249999999997" fill="#000"/>
<line x1="177.5" y1="455.655" x2="177.5" y2="445.495" stroke="#555" stroke-width="1"/>
<line x1="174.6" y1="445.495" x2="180.4" y2="445.495" stroke="#000" stroke-width="1"/>
<rect x="170.6" y="455.655" width="13.8" height="42.545000000000016" fill="#000"/>
<line x1="196.0" y1="419.46" x2="196.0" y2="399.775" stroke="#555" stroke-width="1"/>
<line x1="193.1" y1="399.775" x2="198.9" y2="399.775" stroke="#000" stroke-width="1"/>
<rect x="189.1" y="419.46" width="13.8" height="78.74000000000001" fill="#000"/>
<line x1="214.5" y1="414.0625" x2="214.5" y2="390.5675" stroke="#555" stroke-width="1"/>
<line x1="211.6" y1="390.5675" x2="217.4" y2="390.5675" stroke="#000" stroke-width="1"/>
<rect x="207.6" y="414.0625" width="13.8" height="84.13749999999999" fill="#000"/>
<text x="71.3" y="503.6" font-size="10" text-anchor="end" font-weight="normal" fill="#000" transform="rotate(-90 71.3 503.6)">Mock</text>
<text x="89.45" y="503.6" font-size="10" text-anchor="end" font-weight="normal" fill="#000" transform="rotate(-90 89.45 503.6)">WT</text>
<text x="107.6" y="503.6" font-size="10" text-anchor="end" font-weight="normal" fill="#000" transform="rotate(-90 107.6 503.6)">N255D</text>
<text x="125.75" y="503.6" font-size="10" text-anchor="end" font-weight="normal" fill="#000" transform="rotate(-90 125.75 503.6)">N255E</text>
<text x="143.9" y="503.6" font-size="10" text-anchor="end" font-weight="normal" fill="#000" transform="rotate(-90 143.9 503.6)">N255Q</text>
<text x="162.05" y="503.6" font-size="10" text-anchor="end" font-weight="normal" fill="#000" transform="rotate(-90 162.05 503.6)">N255A</text>
<text x="180.2" y="503.6" font-size="10" text-anchor="end" font-weight="normal" fill="#000" transform="rotate(-90 180.2 503.6)">N255V</text>
<text x="198.35" y="503.6" font-size="10" text-anchor="end" font-weight="normal" fill="#000" transform="rotate(-90 198.35 503.6)">N255T</text>
<text x="216.5" y="503.6" font-size="10" text-anchor="end" font-weight="normal" fill="#000" transform="rotate(-90 216.5 503.6)">N255H</text>
<polygon points="104.20,472.25 104.93,474.19 107.01,474.29 105.39,475.59 105.93,477.59 104.20,476.45 102.47,477.59 103.01,475.59 101.39,474.29 103.47,474.19" fill="#000"/>
<polygon points="122.10,480.85 122.83,482.79 124.91,482.89 123.29,484.19 123.83,486.19 122.10,485.05 120.37,486.19 120.91,484.19 119.29,482.89 121.37,482.79" fill="#000"/>
<polygon points="140.50,470.25 141.23,472.19 143.31,472.29 141.69,473.59 142.23,475.59 140.50,474.45 138.77,475.59 139.31,473.59 137.69,472.29 139.77,472.19" fill="#000"/>
</svg>
</body></html>
